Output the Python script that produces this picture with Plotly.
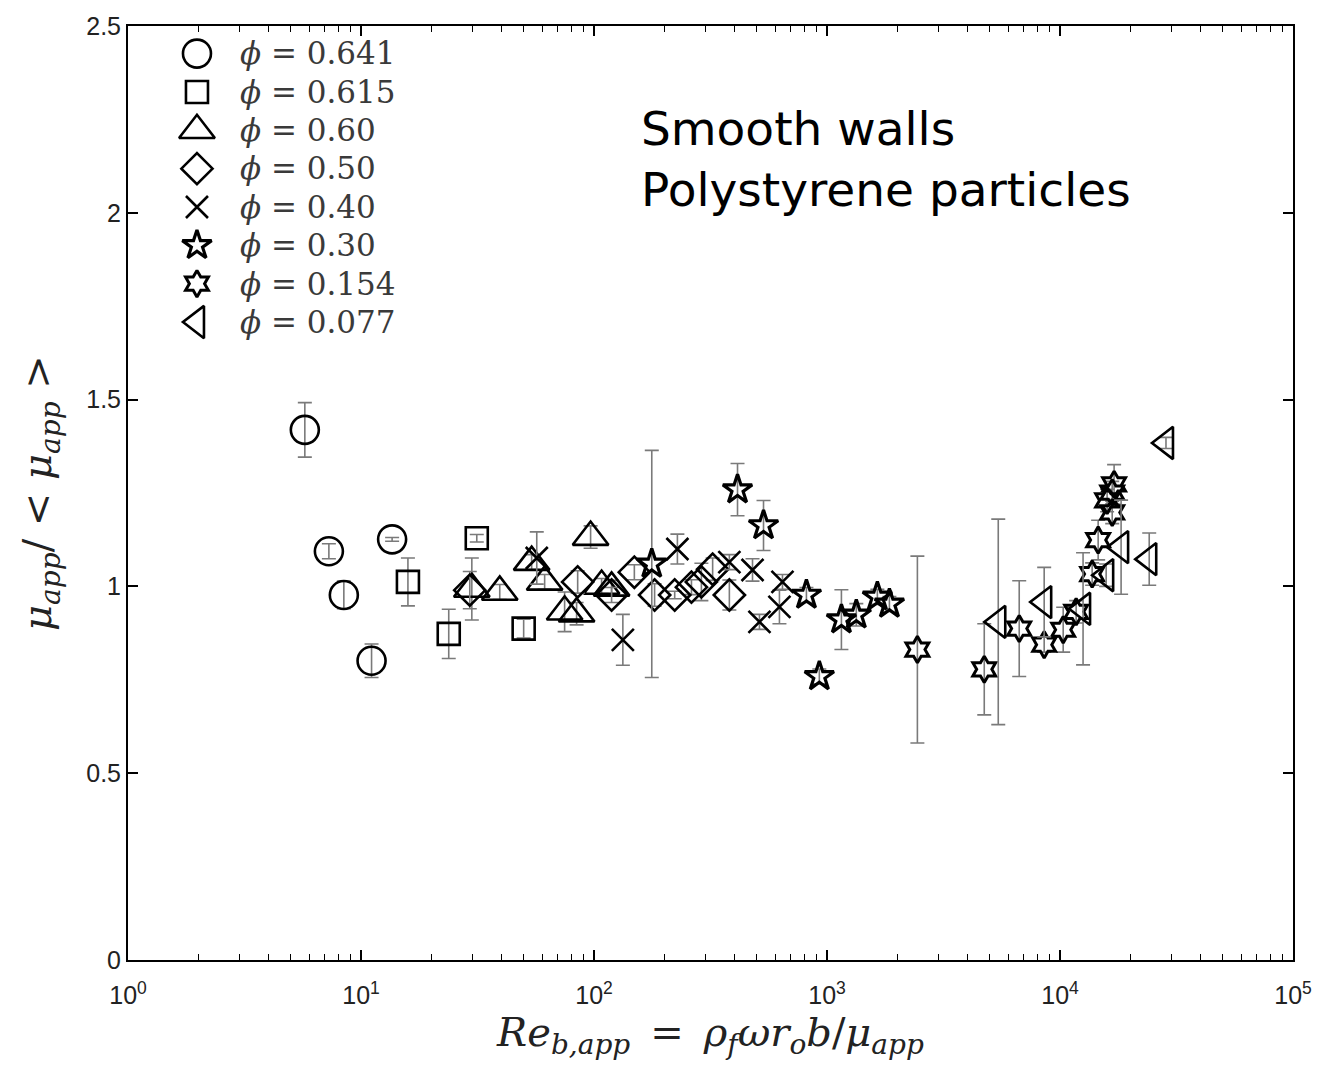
import plotly.graph_objects as go

# Apparent Reynolds number and normalised apparent viscosity, one set per volume fraction
phi_labels = ["0.641", "0.615", "0.60", "0.50", "0.40", "0.30", "0.154", "0.077"]

re_641 = [5.74, 7.28, 8.44, 11.1, 13.6]
mu_641 = [1.419, 1.094, 0.977, 0.801, 1.126]
err_641 = [0.073, 0.02, 0.037, 0.045, 0.005]

re_615 = [15.9, 23.8, 31.4, 49.9]
mu_615 = [1.012, 0.873, 1.129, 0.887]
err_615 = [0.064, 0.066, 0.01, 0.025]

re_60 = [29.9, 39.4, 54.0, 61.4, 74.8, 84.2, 96.7, 107.8, 119.0]
mu_60 = [0.993, 0.985, 1.065, 1.012, 0.932, 0.927, 1.132, 1.001, 0.996]
err_60 = [0.083, 0.02, 0.02, 0.02, 0.053, 0.03, 0.03, 0.02, 0.02]

re_50 = [29.3, 85.1, 119.0, 149.0, 182.0, 222.0, 262.0, 289.0, 323.0, 381.0]
mu_50 = [0.990, 1.012, 0.977, 1.038, 0.977, 0.977, 0.998, 1.012, 1.046, 0.977]
err_50 = [0.05, 0.03, 0.02, 0.02, 0.03, 0.01, 0.02, 0.05, 0.03, 0.04]

re_40 = [56.8, 133.0, 228.0, 381.0, 479.0, 513.0, 625.0, 644.0]
mu_40 = [1.076, 0.857, 1.100, 1.065, 1.044, 0.905, 0.945, 1.012]
err_40 = [0.07, 0.068, 0.04, 0.02, 0.03, 0.02, 0.045, 0.02]

re_30 = [177.0, 413.0, 534.0, 816.0, 927.0, 1153.0, 1336.0, 1645.0, 1853.0]
mu_30 = [1.060, 1.259, 1.163, 0.977, 0.759, 0.911, 0.924, 0.972, 0.953]
err_30 = [0.304, 0.07, 0.067, 0.02, 0.02, 0.08, 0.03, 0.02, 0.02]

re_154 = [2443.0, 4731.0, 6683.0, 8553.0, 10320.0, 11730.0, 13740.0,
          14580.0, 15930.0, 16750.0, 16750.0, 17070.0]
mu_154 = [0.831, 0.778, 0.887, 0.844, 0.884, 0.932, 1.033,
          1.124, 1.230, 1.198, 1.251, 1.273]
err_154 = [0.25, 0.122, 0.128, 0.02, 0.06, 0.03, 0.03,
           0.053, 0.03, 0.03, 0.03, 0.053]

re_077 = [5433.0, 8553.0, 12560.0, 15780.0, 18290.0, 24150.0, 28500.0]
mu_077 = [0.905, 0.958, 0.940, 1.030, 1.105, 1.073, 1.384]
err_077 = [0.275, 0.093, 0.15, 0.03, 0.126, 0.07, 0.015]

x_tick_vals = [1, 10, 100, 1000, 10000, 100000]
x_tick_text = ["10<sup>0</sup>", "10<sup>1</sup>", "10<sup>2</sup>",
               "10<sup>3</sup>", "10<sup>4</sup>", "10<sup>5</sup>"]
y_tick_vals = [0, 0.5, 1, 1.5, 2, 2.5]
y_tick_text = ["0", "0.5", "1", "1.5", "2", "2.5"]

# (x, y, error, symbol, size, outline width)
series = [
    (re_641, mu_641, err_641, "circle-open", 28, 2.6),
    (re_615, mu_615, err_615, "square-open", 22, 2.6),
    (re_60, mu_60, err_60, "triangle-up-open", 31, 2.6),
    (re_50, mu_50, err_50, "diamond-open", 24, 2.6),
    (re_40, mu_40, err_40, "x-thin-open", 22, 2.6),
    (re_30, mu_30, err_30, "star-open", 22, 3.2),
    (re_154, mu_154, err_154, "hexagram-open", 20, 3.0),
    (re_077, mu_077, err_077, "triangle-left-open", 28, 2.6),
]

key_texts = ["<i>ϕ</i> = " + lab for lab in phi_labels]

fig = go.Figure()
for key, (xs, ys, es, sym, sz, lw) in zip(key_texts, series):
    marker = dict(symbol=sym, size=sz, color="black",
                  line=dict(color="black", width=lw))
    fig.add_trace(go.Scatter(
        x=xs, y=ys, mode="markers", name=key, showlegend=False,
        error_y=dict(type="data", array=es, visible=True,
                     color="#7a7a7a", thickness=1.6, width=7),
        marker=marker,
    ))
    # key entry: one symbol per volume fraction on a small categorical panel
    fig.add_trace(go.Scatter(
        x=["key"], y=[key], mode="markers", showlegend=False,
        xaxis="x2", yaxis="y2", marker=marker, hoverinfo="skip",
        cliponaxis=False,
    ))

fig.add_annotation(
    text="Smooth walls<br>Polystyrene particles",
    xref="paper", yref="paper", x=0.439, y=0.858,
    xanchor="left", yanchor="middle", align="left", showarrow=False,
    font=dict(family="DejaVu Sans", size=47, color="black"),
)

n_keys = len(key_texts)

fig.update_layout(
    width=1324, height=1074,
    margin=dict(l=128, r=30, t=21, b=114),
    paper_bgcolor="white", plot_bgcolor="rgba(0,0,0,0)",
    showlegend=False,
    xaxis=dict(
        type="log", range=[0, 5],
        tickmode="array", tickvals=x_tick_vals, ticktext=x_tick_text,
        ticks="inside", ticklen=10, tickwidth=1.5, tickcolor="black",
        minor=dict(tickvals=[m * 10 ** k for k in range(5) for m in range(2, 10)],
                   ticks="inside", ticklen=6, tickwidth=1.2, tickcolor="black",
                   showgrid=False),
        showline=True, linewidth=2, linecolor="black", mirror="ticks",
        showgrid=False, zeroline=False,
        ticklabelstandoff=12,
        tickfont=dict(family="Liberation Sans", size=25, color="#222222"),
        title=dict(
            text="<i>Re</i><sub><i>b,app</i></sub>\u2002=\u2002<i>ρ</i><sub><i>f</i></sub>"
                 "<i>ωr</i><sub><i>o</i></sub><i>b</i>/<i>μ</i><sub><i>app</i></sub>",
            font=dict(family="DejaVu Serif", size=40, color="#222222"),
            standoff=4,
        ),
    ),
    yaxis=dict(
        range=[0, 2.5],
        tickmode="array", tickvals=y_tick_vals, ticktext=y_tick_text,
        ticks="inside", ticklen=10, tickwidth=1.5, tickcolor="black",
        showline=True, linewidth=2, linecolor="black", mirror="ticks",
        showgrid=False, zeroline=False,
        tickfont=dict(family="Liberation Sans", size=25, color="#222222"),
        title=dict(
            text="<i>μ</i><sub><i>app</i></sub>/ &lt; <i>μ</i><sub><i>app</i></sub> &gt;",
            font=dict(family="DejaVu Serif", size=40, color="#222222"),
            standoff=22,
        ),
    ),
    xaxis2=dict(
        domain=[0.0489, 0.0695], anchor="y2", type="category",
        range=[-0.5, 0.5], visible=False, fixedrange=True,
    ),
    yaxis2=dict(
        domain=[0.6625, 0.9910], anchor="x2", type="category",
        categoryorder="array", categoryarray=key_texts,
        range=[n_keys - 0.5, -0.5],
        tickmode="array", tickvals=key_texts, ticktext=key_texts,
        side="right", showline=False, showgrid=False, zeroline=False,
        ticks="", ticklabelstandoff=30, fixedrange=True,
        tickfont=dict(family="DejaVu Serif", size=31, color="#3a3a3a"),
    ),
)

fig.write_html("out.html")
